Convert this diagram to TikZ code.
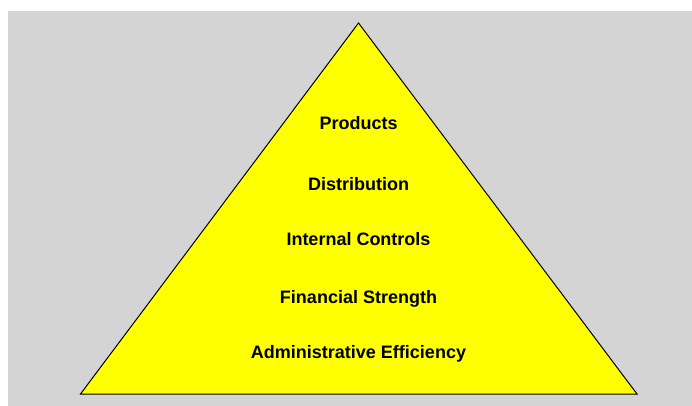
\documentclass[tikz,border=0pt]{standalone}
\usepackage{fontspec}
\setmainfont{Liberation Sans}
\definecolor{bgray}{RGB}{212,212,212}
\definecolor{pyellow}{RGB}{255,255,0}
\begin{document}
\begin{tikzpicture}[x=1pt,y=-1pt,
  lbl/.style={font=\fontsize{18}{21}\selectfont\bfseries, inner sep=0pt, anchor=center}]
\useasboundingbox (0,0) rectangle (692,406);
\fill[white] (0,0) rectangle (692,406);
\fill[bgray] (8,11) rectangle (692,406);
\draw[fill=pyellow, line width=1pt, line join=miter] (358.5,23) -- (637,394) -- (80.5,394) -- cycle;
\node[lbl] (p) at (358.5,123) {Products};
\node[lbl] (d) at (358.5,184) {Distribution};
\node[lbl] (i) at (358.5,239) {Internal Controls};
\node[lbl] (f) at (358.5,299) {Financial Strength};
\node[lbl] (a) at (358.5,354) {Administrative Efficiency};
\end{tikzpicture}
\end{document}
